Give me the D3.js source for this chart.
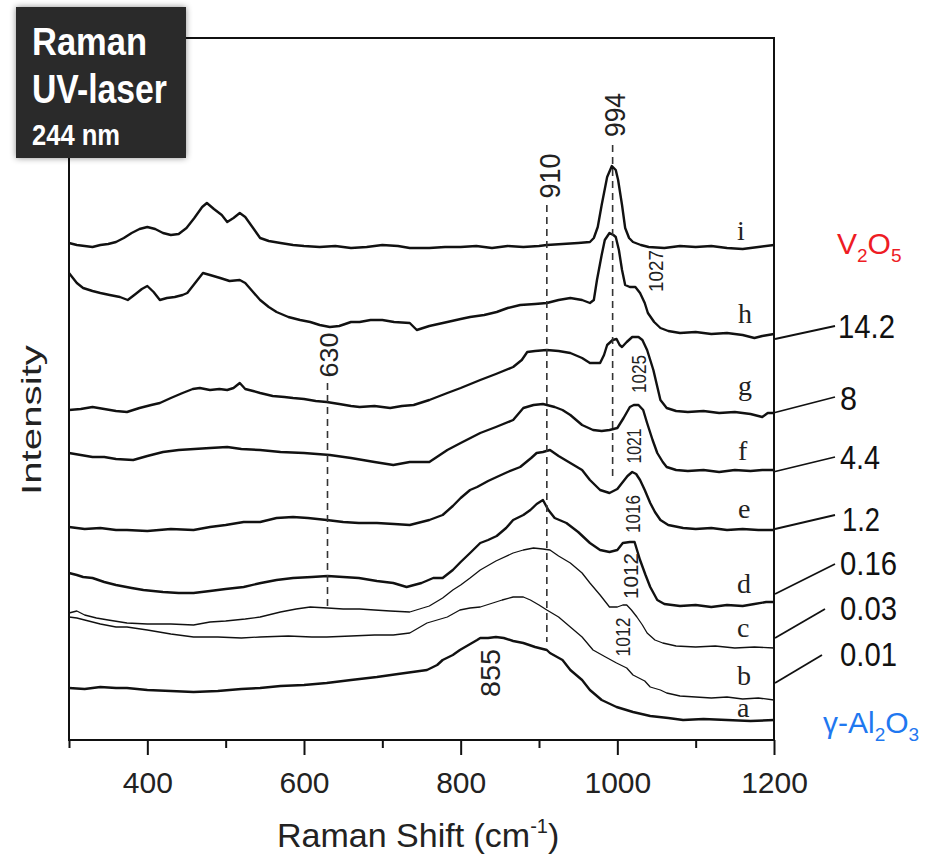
<!DOCTYPE html>
<html><head><meta charset="utf-8">
<script src="https://cdn.jsdelivr.net/npm/d3@7"></script>
<style>html,body{margin:0;padding:0;background:#fff;}svg{display:block;}</style>
</head><body>
<svg id="c" width="938" height="856"></svg>
<script>
// ---------- DATA (Raman shift cm-1, intensity a.u.) ----------
const spectrumI = [[300,497],[310,495],[320,494],[330,493],[340,495],[350,496],[360,498],[370,502],[380,507],[390,511],[400,513],[410,511],[420,507],[430,505],[440,506],[450,512],[460,522],[470,533],[476,537],[485,531],[495,525],[502,518],[510,522],[518,527],[525,523],[535,512],[544,502],[555,499],[570,497],[586,495],[600,494],[620,493],[640,494],[660,492],[680,493],[700,495],[720,494],[735,492],[760,492],[780,493],[800,493],[820,494],[840,492],[860,494],[880,493],[900,494],[910,495],[930,496],[950,497],[965,498],[970,502],[975,513],[980,535],[987,563],[993,574],[998,570],[1001,560],[1006,535],[1010,512],[1015,502],[1020,498],[1030,495],[1040,493],[1060,492],[1080,494],[1100,493],[1120,494],[1140,492],[1160,491],[1180,493],[1200,495]];
const spectrumH = [[300,467],[305,462],[310,457],[318,452],[330,449],[340,447],[352,445],[365,443],[375,440],[385,446],[393,451],[400,454],[408,448],[416,440],[425,442],[435,443],[445,445],[451,447],[460,456],[471,467],[480,465],[493,462],[505,459],[518,460],[525,457],[535,448],[544,440],[555,433],[565,428],[580,423],[595,420],[608,418],[620,415],[633,413],[645,414],[660,418],[671,418],[685,420],[700,420],[715,418],[735,417],[744,410],[760,414],[783,418],[800,421],[812,423],[830,425],[846,428],[860,432],[876,435],[895,436],[910,437],[925,440],[940,442],[955,440],[965,437],[970,440],[974,460],[980,485],[984,500],[990,507],[995,505],[998,503],[1002,490],[1006,470],[1010,455],[1016,453],[1023,453],[1029,447],[1035,437],[1039,427],[1047,418],[1055,412],[1065,409],[1080,407],[1100,408],[1120,406],[1140,407],[1160,405],[1175,402],[1185,404],[1200,406]];
const spectrumG = [[300,330],[315,331],[330,333],[345,331],[360,329],[374,328],[390,332],[405,335],[416,337],[430,342],[445,347],[458,351],[467,352],[480,350],[492,351],[502,350],[510,352],[518,357],[525,351],[535,349],[544,347],[560,344],[575,343],[586,342],[600,341],[615,339],[629,338],[645,336],[660,334],[671,333],[690,334],[710,332],[725,334],[740,335],[760,340],[783,347],[800,352],[825,360],[845,366],[867,373],[878,380],[885,388],[895,389],[910,390],[925,389],[940,387],[955,382],[965,377],[978,377],[983,385],[987,395],[994,400],[999,401],[1003,395],[1006,393],[1012,398],[1019,403],[1027,403],[1032,400],[1038,390],[1046,370],[1055,340],[1063,332],[1075,329],[1090,328],[1110,329],[1130,327],[1150,328],[1170,326],[1185,323],[1192,327],[1200,327]];
const spectrumF = [[300,287],[315,285],[330,283],[345,283],[360,281],[382,280],[400,284],[420,288],[440,290],[460,291],[480,292],[502,293],[520,291],[544,290],[570,288],[600,287],[633,285],[660,282],[690,278],[714,275],[735,278],[760,278],[783,290],[800,297],[825,307],[845,313],[867,320],[880,332],[893,335],[905,336],[920,333],[930,330],[940,325],[955,315],[969,310],[980,309],[990,310],[1000,312],[1008,322],[1016,333],[1021,335],[1027,335],[1033,330],[1038,317],[1045,300],[1051,287],[1058,278],[1063,273],[1075,270],[1090,269],[1110,270],[1130,268],[1150,270],[1170,269],[1185,270],[1200,270]];
const spectrumE = [[300,213],[320,211],[340,212],[360,210],[374,210],[400,209],[430,211],[459,210],[480,213],[500,215],[523,218],[544,218],[565,222],[586,223],[605,222],[629,220],[650,218],[670,217],[693,217],[715,216],[735,215],[760,220],[777,225],[790,234],[800,242],[812,250],[821,253],[835,259],[846,263],[860,268],[876,273],[890,282],[897,287],[905,288],[914,290],[925,284],[940,277],[955,270],[965,260],[978,250],[990,247],[1000,251],[1007,258],[1013,264],[1019,268],[1024,266],[1029,260],[1035,250],[1042,237],[1048,228],[1055,220],[1065,215],[1084,212],[1100,211],[1120,212],[1140,210],[1160,211],[1180,210],[1200,210]];
const spectrumD = [[300,167],[310,165],[318,163],[330,162],[345,158],[360,155],[380,152],[395,150],[420,148],[440,147],[459,147],[480,149],[500,151],[523,153],[545,157],[565,160],[586,162],[610,163],[630,164],[650,163],[670,162],[693,159],[714,157],[731,153],[750,157],[765,162],[777,162],[790,170],[800,178],[812,187],[825,197],[835,200],[846,204],[858,212],[867,220],[880,225],[889,230],[897,236],[905,240],[912,230],[920,222],[935,217],[950,208],[965,197],[978,190],[990,188],[1000,190],[1007,197],[1016,198],[1022,198],[1029,180],[1036,165],[1042,153],[1051,140],[1060,136],[1080,134],[1100,135],[1120,133],[1140,135],[1160,134],[1175,136],[1190,138],[1200,138]];
const spectrumC = [[300,127],[310,129],[320,125],[335,122],[350,120],[374,117],[400,116],[430,116],[459,115],[480,118],[500,119],[525,121],[544,123],[570,128],[590,131],[608,133],[630,132],[650,131],[671,131],[690,130],[710,129],[735,128],[760,134],[777,142],[790,150],[800,155],[812,162],[825,170],[845,179],[867,187],[880,190],[893,192],[905,191],[914,190],[925,184],[940,177],[955,167],[965,157],[978,145],[990,133],[1000,133],[1007,135],[1012,135],[1018,130],[1025,123],[1032,115],[1038,107],[1048,100],[1058,97],[1075,94],[1100,93],[1125,94],[1150,92],[1175,93],[1200,92]];
const spectrumB = [[300,123],[310,122],[320,120],[340,116],[360,113],[374,113],[400,110],[430,106],[459,103],[490,103],[520,102],[544,103],[580,104],[610,103],[629,103],[660,104],[690,105],[714,105],[735,107],[757,117],[783,123],[799,130],[812,132],[825,133],[841,137],[853,140],[867,143],[880,143],[889,140],[900,135],[910,130],[925,123],[940,113],[955,103],[969,90],[985,83],[999,77],[1012,72],[1020,65],[1035,59],[1042,53],[1055,50],[1063,47],[1080,44],[1100,43],[1120,42],[1140,43],[1160,41],[1180,42],[1200,40]];
const spectrumA = [[300,52],[320,51],[340,53],[360,52],[374,52],[400,50],[430,49],[459,48],[490,49],[520,51],[544,52],[570,54],[600,55],[629,57],[660,60],[693,63],[720,66],[757,70],[770,75],[777,80],[790,85],[799,90],[810,95],[821,100],[825,102],[835,102],[845,103],[855,102],[867,99],[880,97],[895,93],[910,90],[914,87],[930,80],[940,70],[955,60],[965,50],[980,40],[999,33],[1020,28],[1042,24],[1065,22],[1084,20],[1110,21],[1140,20],[1170,19],[1200,20]];

const curveLetters = ["i","h","g","f","e","d","c","b","a"];
const loadings = ["14.2","8","4.4","1.2","0.16","0.03","0.01"];
const majorTicks = [400,600,800,1000,1200];
const minorTicks = [300,500,700,900,1100];
const markerShifts = [630, 910, 994];
const peakLabels = ["1027","1025","1021","1016","1012","1012","855"];

// ---------- LAYOUT ----------
const svg = d3.select("#c");
const x = d3.scaleLinear().domain([300,1200]).range([69,774]);
const y = d3.scaleLinear().domain([0,702]).range([740,38]);
const SANS = "'Liberation Sans', Arial, Helvetica, sans-serif";
const SERIF = "'Liberation Serif', 'Times New Roman', serif";

const defs = svg.append("defs");
const f = defs.append("filter").attr("id","sh").attr("x","-20%").attr("y","-20%").attr("width","140%").attr("height","140%");
f.append("feDropShadow").attr("dx",0).attr("dy",0).attr("stdDeviation",3).attr("flood-color","#000").attr("flood-opacity",0.45);

const series = [
  {d:spectrumI, w:2.4},{d:spectrumH, w:2.4},{d:spectrumG, w:2.4},{d:spectrumF, w:2.4},
  {d:spectrumE, w:2.4},{d:spectrumD, w:2.4},{d:spectrumC, w:1.3},{d:spectrumB, w:1.3},{d:spectrumA, w:2.4}
];
const line = d3.line().x(p=>x(p[0])).y(p=>y(p[1])).curve(d3.curveLinear);
svg.append("g").selectAll("path").data(series).join("path")
  .attr("d", s=>line(s.d)).attr("fill","none").attr("stroke","#111")
  .attr("stroke-width", s=>s.w).attr("stroke-linejoin","round");

// dashed marker lines (vertical extents in px)
const markerExt = [[383,610],[205,642],[145,480]];
svg.append("g").selectAll("line").data(markerShifts).join("line")
  .attr("x1",d=>x(d)).attr("x2",d=>x(d))
  .attr("y1",(d,i)=>markerExt[i][0]).attr("y2",(d,i)=>markerExt[i][1])
  .attr("stroke","#333").attr("stroke-width",1.6).attr("stroke-dasharray","7,5");

function rotLabel(t, xc, yc, fs, len){
  svg.append("text").text(t)
    .attr("transform",`translate(${xc+0.358*fs},${yc}) rotate(-90)`)
    .attr("text-anchor","middle").attr("font-family",SANS).attr("font-size",fs)
    .attr("fill","#222").attr("textLength",len).attr("lengthAdjust","spacingAndGlyphs");
}
rotLabel(String(markerShifts[2]), 614, 115, 30, 44);
rotLabel(String(markerShifts[1]), 549, 176, 30, 45);
rotLabel(String(markerShifts[0]), 329, 355, 25, 45);
const peakPos = [[655,271,21,42],[639,374,20,38],[634,446,20,35],[633,514,20,38],[631,576,20,46],[623,637,20,39],[490,673,28,48]];
peakLabels.forEach((t,i)=>rotLabel(t, ...peakPos[i]));

// curve letters
const letterPos = [[737,240],[738,323],[738,395],[738,460],[738,518],[737,593],[737,637],[737,685],[737,717]];
svg.append("g").selectAll("text").data(curveLetters).join("text")
  .text(d=>d).attr("x",(d,i)=>letterPos[i][0]).attr("y",(d,i)=>letterPos[i][1])
  .attr("font-family",SERIF).attr("font-size",28).attr("fill","#222");

// frame
svg.append("rect").attr("x",69).attr("y",38).attr("width",705).attr("height",702)
  .attr("fill","none").attr("stroke","#111").attr("stroke-width",2);

// axes
const gx = svg.append("g").attr("transform","translate(0,740)");
gx.call(d3.axisBottom(x).tickValues(majorTicks).tickSize(15).tickFormat(d3.format("d")));
const gm = svg.append("g").attr("transform","translate(0,740)");
gm.call(d3.axisBottom(x).tickValues(minorTicks).tickSize(8).tickFormat(""));
[gx,gm].forEach(g=>{g.select(".domain").remove(); g.selectAll("line").attr("stroke","#111").attr("stroke-width",2);});
gx.selectAll("text").attr("y",53).attr("dy",0).attr("font-family",SANS).attr("font-size",30).attr("fill","#222");

// axis titles
const xt = svg.append("text").attr("x",277).attr("y",847).attr("font-family",SANS).attr("font-size",34).attr("fill","#222");
xt.append("tspan").text("Raman Shift (cm");
xt.append("tspan").text("-1").attr("font-size",20).attr("dy",-14);
xt.append("tspan").text(")").attr("dy",14);
svg.append("text").text("Intensity").attr("transform","translate(41,420) rotate(-90)")
  .attr("text-anchor","middle").attr("font-family",SANS).attr("font-size",28).attr("fill","#222")
  .attr("textLength",150).attr("lengthAdjust","spacingAndGlyphs");

// loading labels with leader lines
const loadPos = [[838,338,57],[840,410,17],[840,469,40],[842,531,38],[840,575,57],[840,620,57],[840,666,57]];
const leaders = [[775,339,835,326],[773,413,835,397],[773,472,835,457],[775,529,835,515],[775,594,835,564],[775,638,825,609],[775,683,822,655]];
svg.append("g").selectAll("line").data(leaders).join("line")
  .attr("x1",d=>d[0]).attr("y1",d=>d[1]).attr("x2",d=>d[2]).attr("y2",d=>d[3])
  .attr("stroke","#111").attr("stroke-width",1.8);
svg.append("g").selectAll("text").data(loadings).join("text")
  .text(d=>d).attr("x",(d,i)=>loadPos[i][0]).attr("y",(d,i)=>loadPos[i][1])
  .attr("font-family",SANS).attr("font-size",34).attr("fill","#111")
  .attr("textLength",(d,i)=>loadPos[i][2]).attr("lengthAdjust","spacingAndGlyphs");

// chemical formulas with subscripts
function formula(parts, xx, yy, fs, sfs, col){
  const t = svg.append("text").attr("x",xx).attr("y",yy).attr("font-family",SANS).attr("font-size",fs).attr("fill",col);
  let sub = false;
  parts.forEach(([s,isSub])=>{
    const ts = t.append("tspan").text(s);
    if(isSub && !sub){ ts.attr("font-size",sfs).attr("dy",8); sub=true; }
    else if(!isSub && sub){ ts.attr("dy",-8); sub=false; }
  });
}
formula([["V",false],["2",true],["O",false],["5",true]], 837, 254, 30, 19, "#ee1c24");
formula([["γ-Al",false],["2",true],["O",false],["3",true]], 823, 733, 30, 19, "#1f78f0");

// box
svg.append("rect").attr("x",16).attr("y",7).attr("width",170).attr("height",151).attr("fill","#2b2b2b").attr("filter","url(#sh)");
function boxText(t,yy,fs,w){
  svg.append("text").text(t).attr("x",32).attr("y",yy).attr("font-family",SANS).attr("font-weight","bold")
    .attr("font-size",fs).attr("fill","#fff").attr("textLength",w).attr("lengthAdjust","spacingAndGlyphs");
}
boxText("Raman",55,39,115);
boxText("UV-laser",103,40,135);
boxText("244 nm",145,30,88);
</script>
</body></html>
